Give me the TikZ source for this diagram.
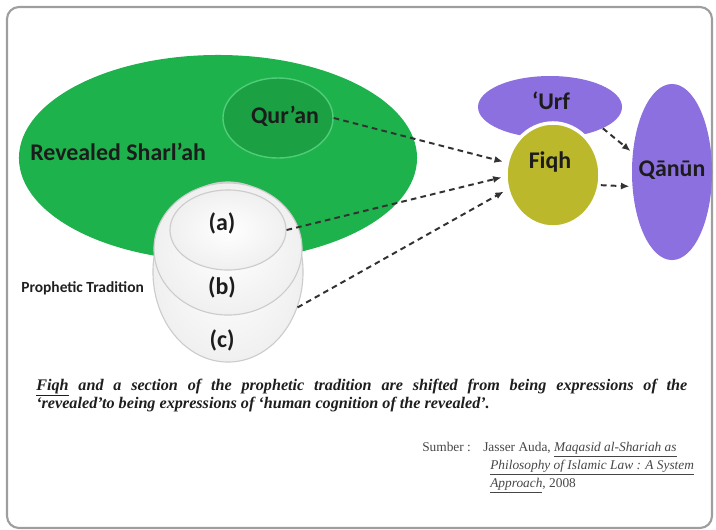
\documentclass[tikz,border=0pt]{standalone}
\usepackage{fontspec}
\setmainfont{Liberation Serif}
\newfontfamily\calibri{Carlito}
\usetikzlibrary{shapes.geometric,arrows.meta,shadows}

\definecolor{shariagreen}{RGB}{30,178,76}
\definecolor{qurangreen}{RGB}{27,160,68}
\definecolor{quranrim}{RGB}{80,205,120}
\definecolor{urfpurple}{RGB}{140,112,224}
\definecolor{fiqholive}{RGB}{188,184,44}
\definecolor{framegray}{RGB}{158,158,158}
\definecolor{arrowgray}{RGB}{50,50,50}
\definecolor{labeltext}{RGB}{28,28,28}
\definecolor{captext}{RGB}{30,30,30}
\definecolor{reftext}{RGB}{70,70,70}

\begin{document}
\begin{tikzpicture}[x=0.025cm, y=-0.025cm,
        blob/.style = {ellipse, inner sep=0pt},
        stack/.style = {blob, draw=gray!40, line width=0.8pt, inner color=white, outer color=gray!12},
        lbl/.style = {font=\calibri\bfseries\fontsize{17}{20}\selectfont, text=labeltext, inner sep=0pt},
        caption/.style = {font=\fontsize{11.5}{14}\selectfont\bfseries\itshape, text=captext, inner sep=0pt, anchor=base west},
        ref/.style = {font=\fontsize{9.5}{12}\selectfont, text=reftext, inner sep=0pt, anchor=base west},
        flow/.style = {draw=arrowgray, line width=1.4pt, dash pattern=on 4pt off 3pt,
                -{Latex[length=6pt,width=5pt]}, shorten >=2pt}]
        \useasboundingbox (0, 0) rectangle (716, 529);
        \draw[framegray, line width=1.5pt, rounded corners=0.3cm] (7, 7) rectangle (712, 528);

        % revealed side
        \node[blob, fill=shariagreen, minimum width=9.95cm, minimum height=5.15cm] (sharia) at (218, 158) {};
        \node[blob, fill=qurangreen, draw=quranrim, line width=1pt, minimum width=2.75cm, minimum height=2cm] (quran) at (278, 118) {};
        \node[lbl] (qurantext) at (285, 116) {Qur’an};
        \node[lbl, anchor=base west] (shariatext) at (30, 160) {Revealed Sharl’ah};

        % prophetic tradition
        \node[stack, minimum width=3.75cm, minimum height=4.5cm] (pc) at (228, 272) {};
        \node[stack, minimum width=3.7cm, minimum height=3.3cm] (pb) at (228, 249) {};
        \node[stack, minimum width=2.9cm, minimum height=2cm] (pa) at (228, 230) {};
        \node[lbl] (atext) at (222, 223) {(a)};
        \node[lbl] (btext) at (222, 287) {(b)};
        \node[lbl] (ctext) at (222, 340) {(c)};
        \node[lbl, font=\calibri\bfseries\fontsize{11}{13}\selectfont, text=gray!25!black, anchor=base west] (pttext) at (21, 292) {Prophetic Tradition};

        % human side
        \node[blob, fill=urfpurple, minimum width=3.6cm, minimum height=1.55cm] (urf) at (550, 107) {};
        \node[lbl] (urftext) at (551, 101) {‘Urf};
        \node[blob, fill=fiqholive, draw=white, line width=2.5pt, minimum width=2.35cm, minimum height=2.6cm,
                drop shadow={shadow xshift=0.5pt, shadow yshift=-1pt, opacity=0.15}] (fiqh) at (553, 175) {};
        \node[lbl] (fiqhtext) at (550, 162) {Fiqh};
        \node[blob, fill=urfpurple, minimum width=2cm, minimum height=4.4cm] (qanun) at (672, 172) {};
        \node[lbl] (qanuntext) at (672, 170) {Qānūn};

        \draw[flow] (quran.east) -- (fiqh.165);
        \draw[flow] (pa.east) -- (fiqh.182);
        \draw[flow] (pc.-27) -- (fiqh.198);
        \draw[flow] (urf.-22) -- (qanun.154);
        \draw[flow] (fiqh.-12) -- (qanun.200);

        \node[caption] (cap1) at (36, 390) {\makebox[463pt][s]{\underline{Fiqh} and a section of the prophetic tradition are shifted from being expressions of the}};
        \node[caption] (cap2) at (36, 408) {‘revealed’to being expressions of ‘human cognition of the revealed’.};

        \node[ref] (sumber) at (422, 451) {Sumber :};
        \node[ref] (ref1) at (483, 451) {Jasser Auda, \underline{\textit{Maqasid al-Shariah as}}};
        \node[ref] (ref2) at (490, 469) {\underline{\textit{Philosophy of Islamic Law : A System}}};
        \node[ref] (ref3) at (490, 487) {\underline{\textit{Approach}}, 2008};
    \end{tikzpicture}
\end{document}
